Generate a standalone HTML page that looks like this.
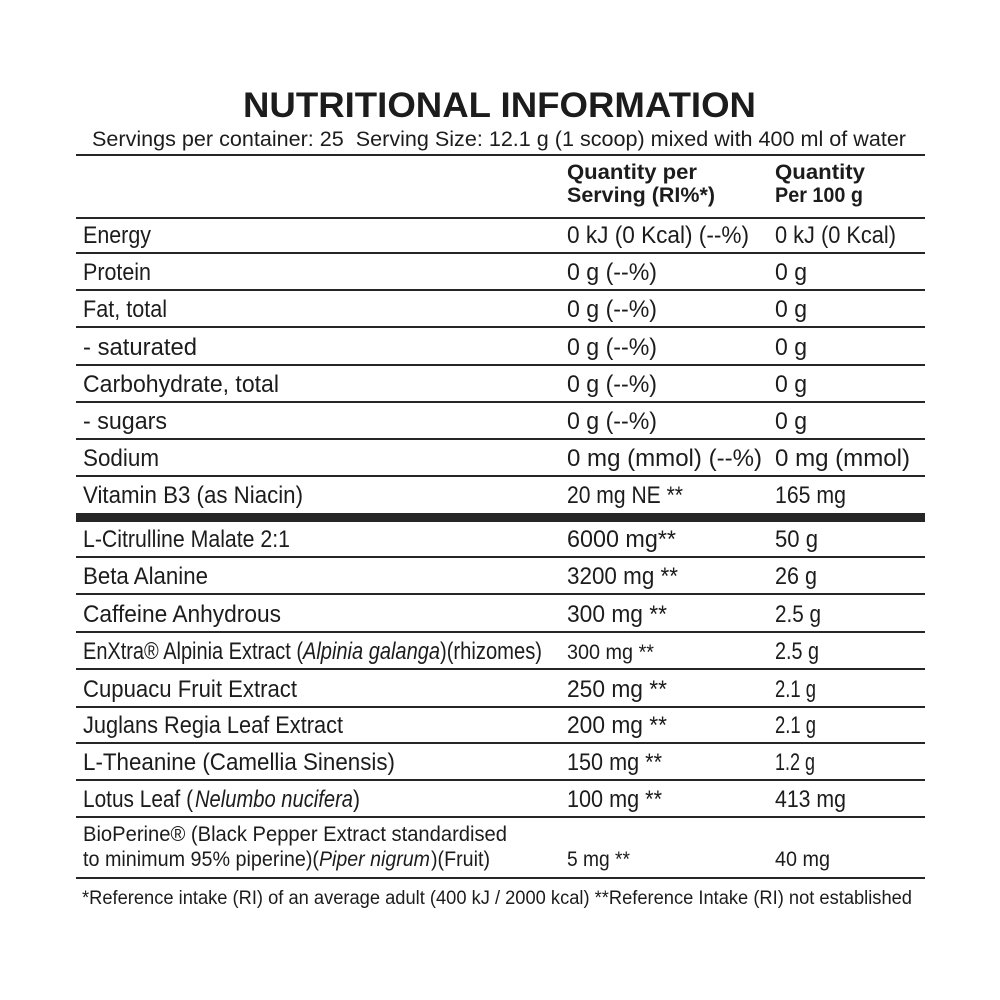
<!DOCTYPE html>
<html>
<head>
<meta charset="utf-8">
<style>
html,body{margin:0;padding:0;background:#fff;}
svg{display:block;}
text{font-family:"Liberation Sans",Arial,sans-serif;fill:#1c1c1c;}
.b{font-weight:bold;}
.r{font-size:24px;}
.i{font-style:italic;}
</style>
</head>
<body>
<svg width="1000" height="1000" viewBox="0 0 1000 1000" xmlns="http://www.w3.org/2000/svg">
<rect width="1000" height="1000" fill="#fff"/>

<!-- Title -->
<text class="b" x="243" y="117" font-size="35" textLength="513" lengthAdjust="spacingAndGlyphs">NUTRITIONAL INFORMATION</text>
<text x="92" y="146" font-size="21" textLength="814" lengthAdjust="spacingAndGlyphs" style="white-space:pre">Servings per container: 25  Serving Size: 12.1 g (1 scoop) mixed with 400 ml of water</text>

<!-- Lines -->
<g fill="#262626">
<rect x="76" y="154" width="849" height="2"/>
<rect x="76" y="217" width="849" height="2"/>
<rect x="76" y="252" width="849" height="2"/>
<rect x="76" y="289" width="849" height="2"/>
<rect x="76" y="326" width="849" height="2"/>
<rect x="76" y="364" width="849" height="2"/>
<rect x="76" y="401" width="849" height="2"/>
<rect x="76" y="438" width="849" height="2"/>
<rect x="76" y="475" width="849" height="2"/>
<rect x="76" y="513" width="849" height="9"/>
<rect x="76" y="556" width="849" height="2"/>
<rect x="76" y="593" width="849" height="2"/>
<rect x="76" y="631" width="849" height="2"/>
<rect x="76" y="668" width="849" height="2"/>
<rect x="76" y="706" width="849" height="2"/>
<rect x="76" y="742" width="849" height="2"/>
<rect x="76" y="779" width="849" height="2"/>
<rect x="76" y="816" width="849" height="2"/>
<rect x="76" y="877" width="849" height="2"/>
</g>

<!-- Header -->
<text class="b" x="567" y="179" font-size="21" textLength="130" lengthAdjust="spacingAndGlyphs">Quantity per</text>
<text class="b" x="567" y="202" font-size="21" textLength="148" lengthAdjust="spacingAndGlyphs">Serving (RI%*)</text>
<text class="b" x="775" y="179" font-size="21" textLength="90" lengthAdjust="spacingAndGlyphs">Quantity</text>
<text class="b" x="775" y="202" font-size="21" textLength="88" lengthAdjust="spacingAndGlyphs">Per 100 g</text>

<!-- Column 1 -->
<g class="r">
<text x="83" y="243" textLength="68" lengthAdjust="spacingAndGlyphs">Energy</text>
<text x="83" y="280" textLength="68" lengthAdjust="spacingAndGlyphs">Protein</text>
<text x="83" y="317" textLength="84" lengthAdjust="spacingAndGlyphs">Fat, total</text>
<text x="83" y="355" textLength="114" lengthAdjust="spacingAndGlyphs">- saturated</text>
<text x="83" y="392" textLength="196" lengthAdjust="spacingAndGlyphs">Carbohydrate, total</text>
<text x="83" y="429" textLength="84" lengthAdjust="spacingAndGlyphs">- sugars</text>
<text x="83" y="466" textLength="76" lengthAdjust="spacingAndGlyphs">Sodium</text>
<text x="83" y="503" textLength="220" lengthAdjust="spacingAndGlyphs">Vitamin B3 (as Niacin)</text>
<text x="83" y="547" textLength="207" lengthAdjust="spacingAndGlyphs">L-Citrulline Malate 2:1</text>
<text x="83" y="584" textLength="125" lengthAdjust="spacingAndGlyphs">Beta Alanine</text>
<text x="83" y="622" textLength="198" lengthAdjust="spacingAndGlyphs">Caffeine Anhydrous</text>
<text x="83" y="659" textLength="220" lengthAdjust="spacingAndGlyphs">EnXtra® Alpinia Extract (</text>
<text class="i" x="303" y="659" textLength="137" lengthAdjust="spacingAndGlyphs">Alpinia galanga</text>
<text x="440" y="659" textLength="102" lengthAdjust="spacingAndGlyphs">)(rhizomes)</text>
<text x="83" y="697" textLength="214" lengthAdjust="spacingAndGlyphs">Cupuacu Fruit Extract</text>
<text x="83" y="733" textLength="260" lengthAdjust="spacingAndGlyphs">Juglans Regia Leaf Extract</text>
<text x="83" y="770" textLength="312" lengthAdjust="spacingAndGlyphs">L-Theanine (Camellia Sinensis)</text>
<text x="83" y="807" textLength="110" lengthAdjust="spacingAndGlyphs">Lotus Leaf (</text>
<text class="i" x="195" y="807" textLength="158" lengthAdjust="spacingAndGlyphs">Nelumbo nucifera</text>
<text x="353" y="807" textLength="7" lengthAdjust="spacingAndGlyphs">)</text>
</g>
<text x="83" y="841" font-size="21" textLength="424" lengthAdjust="spacingAndGlyphs">BioPerine® (Black Pepper Extract standardised</text>
<text x="83" y="866" font-size="21" textLength="236" lengthAdjust="spacingAndGlyphs">to minimum 95% piperine)(</text>
<text class="i" x="319" y="866" font-size="21" textLength="111" lengthAdjust="spacingAndGlyphs">Piper nigrum</text>
<text x="431" y="866" font-size="21" textLength="59" lengthAdjust="spacingAndGlyphs">)(Fruit)</text>

<!-- Column 2 -->
<g class="r">
<text x="567" y="243" textLength="182" lengthAdjust="spacingAndGlyphs">0 kJ (0 Kcal) (--%)</text>
<text x="567" y="280" textLength="90" lengthAdjust="spacingAndGlyphs">0 g (--%)</text>
<text x="567" y="317" textLength="90" lengthAdjust="spacingAndGlyphs">0 g (--%)</text>
<text x="567" y="355" textLength="90" lengthAdjust="spacingAndGlyphs">0 g (--%)</text>
<text x="567" y="392" textLength="90" lengthAdjust="spacingAndGlyphs">0 g (--%)</text>
<text x="567" y="429" textLength="90" lengthAdjust="spacingAndGlyphs">0 g (--%)</text>
<text x="567" y="466" textLength="195" lengthAdjust="spacingAndGlyphs">0 mg (mmol) (--%)</text>
<text x="567" y="503" textLength="116" lengthAdjust="spacingAndGlyphs">20 mg NE **</text>
<text x="567" y="547" textLength="109" lengthAdjust="spacingAndGlyphs">6000 mg**</text>
<text x="567" y="584" textLength="111" lengthAdjust="spacingAndGlyphs">3200 mg **</text>
<text x="567" y="622" textLength="100" lengthAdjust="spacingAndGlyphs">300 mg **</text>
<text x="567" y="659" font-size="21" textLength="87" lengthAdjust="spacingAndGlyphs">300 mg **</text>
<text x="567" y="697" textLength="100" lengthAdjust="spacingAndGlyphs">250 mg **</text>
<text x="567" y="733" textLength="100" lengthAdjust="spacingAndGlyphs">200 mg **</text>
<text x="567" y="770" textLength="95" lengthAdjust="spacingAndGlyphs">150 mg **</text>
<text x="567" y="807" textLength="95" lengthAdjust="spacingAndGlyphs">100 mg **</text>
</g>
<text x="567" y="866" font-size="21" textLength="63" lengthAdjust="spacingAndGlyphs">5 mg **</text>

<!-- Column 3 -->
<g class="r">
<text x="775" y="243" textLength="121" lengthAdjust="spacingAndGlyphs">0 kJ (0 Kcal)</text>
<text x="775" y="280" textLength="32" lengthAdjust="spacingAndGlyphs">0 g</text>
<text x="775" y="317" textLength="32" lengthAdjust="spacingAndGlyphs">0 g</text>
<text x="775" y="355" textLength="32" lengthAdjust="spacingAndGlyphs">0 g</text>
<text x="775" y="392" textLength="32" lengthAdjust="spacingAndGlyphs">0 g</text>
<text x="775" y="429" textLength="32" lengthAdjust="spacingAndGlyphs">0 g</text>
<text x="775" y="466" textLength="135" lengthAdjust="spacingAndGlyphs">0 mg (mmol)</text>
<text x="775" y="503" textLength="71" lengthAdjust="spacingAndGlyphs">165 mg</text>
<text x="775" y="547" textLength="43" lengthAdjust="spacingAndGlyphs">50 g</text>
<text x="775" y="584" textLength="42" lengthAdjust="spacingAndGlyphs">26 g</text>
<text x="775" y="622" textLength="46" lengthAdjust="spacingAndGlyphs">2.5 g</text>
<text x="775" y="659" textLength="44" lengthAdjust="spacingAndGlyphs">2.5 g</text>
<text x="775" y="697" textLength="41" lengthAdjust="spacingAndGlyphs">2.1 g</text>
<text x="775" y="733" textLength="41" lengthAdjust="spacingAndGlyphs">2.1 g</text>
<text x="775" y="770" textLength="40" lengthAdjust="spacingAndGlyphs">1.2 g</text>
<text x="775" y="807" textLength="71" lengthAdjust="spacingAndGlyphs">413 mg</text>
</g>
<text x="775" y="866" font-size="21" textLength="55" lengthAdjust="spacingAndGlyphs">40 mg</text>

<!-- Footnote -->
<text x="82" y="904" font-size="19" textLength="830" lengthAdjust="spacingAndGlyphs">*Reference intake (RI) of an average adult (400 kJ / 2000 kcal) **Reference Intake (RI) not established</text>
</svg>
</body>
</html>
